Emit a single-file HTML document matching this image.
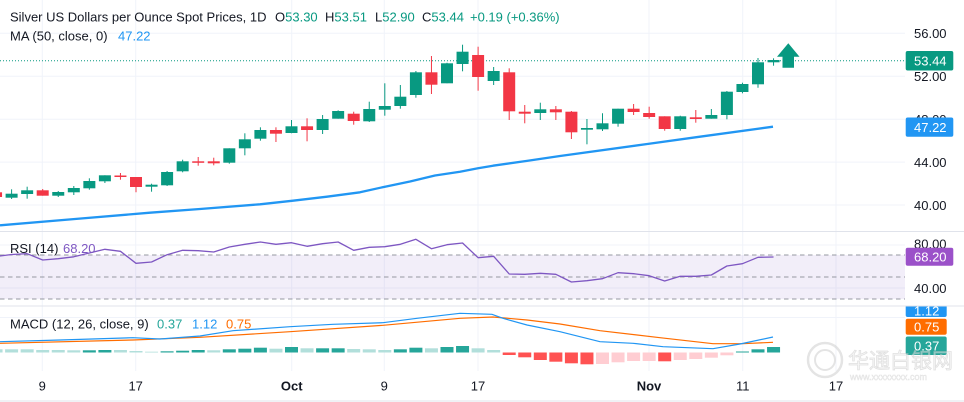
<!DOCTYPE html>
<html><head><meta charset="utf-8"><style>
html,body{margin:0;padding:0;background:#fff;}
svg{display:block;font-family:"Liberation Sans",Arial,"Noto Sans CJK SC",sans-serif;}
</style></head><body>
<svg width="964" height="402" viewBox="0 0 964 402" xmlns="http://www.w3.org/2000/svg">
<rect width="964" height="402" fill="#fff"/>
<!-- vertical grid -->
<g stroke="#f0f3fa" stroke-width="1">
<line x1="42.3" y1="0" x2="42.3" y2="371"/><line x1="135.7" y1="0" x2="135.7" y2="371"/>
<line x1="291.7" y1="0" x2="291.7" y2="371"/><line x1="384.3" y1="0" x2="384.3" y2="371"/>
<line x1="478" y1="0" x2="478" y2="371"/><line x1="649" y1="0" x2="649" y2="371"/>
<line x1="742.7" y1="0" x2="742.7" y2="371"/><line x1="836" y1="0" x2="836" y2="371"/>
<!-- horizontal grid main -->
<line x1="0" y1="33.3" x2="905" y2="33.3"/><line x1="0" y1="76.3" x2="905" y2="76.3"/>
<line x1="0" y1="119.2" x2="905" y2="119.2"/><line x1="0" y1="162.1" x2="905" y2="162.1"/>
<line x1="0" y1="205" x2="905" y2="205"/>
<line x1="0" y1="245" x2="905" y2="245"/><line x1="0" y1="288" x2="905" y2="288"/>
<line x1="0" y1="317.5" x2="905" y2="317.5"/>
</g>
<!-- pane separators -->
<line x1="0" y1="231.5" x2="964" y2="231.5" stroke="#e0e3eb"/>
<line x1="0" y1="306" x2="964" y2="306" stroke="#e0e3eb"/>
<line x1="0" y1="401" x2="964" y2="401" stroke="#e0e3eb"/>

<!-- RSI band -->
<rect x="0" y="255" width="905" height="44" fill="#7e57c2" fill-opacity="0.1"/>
<g stroke="#9598a1" stroke-width="1" stroke-dasharray="4.5,3.5">
<line x1="0" y1="255" x2="905" y2="255"/><line x1="0" y1="277" x2="905" y2="277"/><line x1="0" y1="299" x2="905" y2="299"/>
</g>

<!-- MA line -->
<polyline fill="none" stroke="#2196f3" stroke-width="2.3" stroke-linejoin="round" points="0,225.3 75,219 150,212.7 200,209 260,204.3 293,200.7 327,196.7 360,192.3 385,186.7 410,181.5 435,175.5 460,171.7 478,168.3 493,165.7 527,160.9 560,156 650,143.6 700,136.7 773,126.7"/>

<!-- current price dotted -->
<line x1="0" y1="60.7" x2="905" y2="60.7" stroke="#089981" stroke-width="1" stroke-dasharray="1,2"/>

<!-- candles red -->
<g stroke="#f23645" stroke-width="1">
<line x1="-3.95" y1="192.3" x2="-3.95" y2="197"/>
<line x1="42.7" y1="189" x2="42.7" y2="195.7"/>
<line x1="120.45" y1="173" x2="120.45" y2="179.7"/>
<line x1="136" y1="177" x2="136" y2="192.3"/>
<line x1="198.2" y1="157" x2="198.2" y2="165.7"/>
<line x1="213.75" y1="157.7" x2="213.75" y2="165.3"/>
<line x1="275.95" y1="127.3" x2="275.95" y2="142"/>
<line x1="307.05" y1="118.3" x2="307.05" y2="141.3"/>
<line x1="353.7" y1="111.7" x2="353.7" y2="124.7"/>
<line x1="431.45" y1="56" x2="431.45" y2="94"/>
<line x1="478.1" y1="46.7" x2="478.1" y2="90.7"/>
<line x1="509.2" y1="68.3" x2="509.2" y2="120"/>
<line x1="524.75" y1="105" x2="524.75" y2="123.3"/>
<line x1="555.85" y1="106" x2="555.85" y2="120"/>
<line x1="571.4" y1="111" x2="571.4" y2="139"/>
<line x1="633.6" y1="104" x2="633.6" y2="115"/>
<line x1="649.15" y1="106.7" x2="649.15" y2="118.7"/>
<line x1="664.7" y1="116.3" x2="664.7" y2="130.7"/>
<line x1="695.8" y1="110" x2="695.8" y2="122.7"/>
</g>
<g fill="#f23645">
<rect x="-9.95" y="192.3" width="12" height="4.7"/>
<rect x="36.7" y="190.3" width="12" height="5.4"/>
<rect x="114.45" y="175.5" width="12" height="1.5"/>
<rect x="130" y="177" width="12" height="10"/>
<rect x="192.2" y="161.3" width="12" height="1.5"/>
<rect x="207.75" y="161.3" width="12" height="2"/>
<rect x="269.95" y="130" width="12" height="3.7"/>
<rect x="301.05" y="126.3" width="12" height="3.7"/>
<rect x="347.7" y="113.7" width="12" height="7.3"/>
<rect x="425.45" y="72.3" width="12" height="12.4"/>
<rect x="472.1" y="55" width="12" height="22"/>
<rect x="503.2" y="72.3" width="12" height="39"/>
<rect x="518.75" y="111.7" width="12" height="2"/>
<rect x="549.85" y="109.3" width="12" height="3"/>
<rect x="565.4" y="111.7" width="12" height="20.6"/>
<rect x="627.6" y="108.7" width="12" height="3.3"/>
<rect x="643.15" y="113" width="12" height="4"/>
<rect x="658.7" y="116.3" width="12" height="12.7"/>
<rect x="689.8" y="117.3" width="12" height="1.7"/>
</g>
<!-- candles green -->
<g stroke="#089981" stroke-width="1">
<line x1="11.6" y1="189.3" x2="11.6" y2="199"/>
<line x1="27.15" y1="186.7" x2="27.15" y2="198.7"/>
<line x1="58.25" y1="191" x2="58.25" y2="197"/>
<line x1="73.8" y1="186" x2="73.8" y2="195"/>
<line x1="89.35" y1="178.3" x2="89.35" y2="189.7"/>
<line x1="104.9" y1="175.3" x2="104.9" y2="183"/>
<line x1="151.55" y1="183.7" x2="151.55" y2="191.7"/>
<line x1="167.1" y1="171" x2="167.1" y2="186"/>
<line x1="182.65" y1="159.7" x2="182.65" y2="172.3"/>
<line x1="229.3" y1="148.3" x2="229.3" y2="163.7"/>
<line x1="244.85" y1="133.3" x2="244.85" y2="155.3"/>
<line x1="260.4" y1="127.3" x2="260.4" y2="140.7"/>
<line x1="291.5" y1="120" x2="291.5" y2="133.3"/>
<line x1="322.6" y1="115" x2="322.6" y2="134"/>
<line x1="338.15" y1="110.3" x2="338.15" y2="118.7"/>
<line x1="369.25" y1="101.7" x2="369.25" y2="122"/>
<line x1="384.8" y1="83.3" x2="384.8" y2="115.7"/>
<line x1="400.35" y1="85" x2="400.35" y2="108.7"/>
<line x1="415.9" y1="71" x2="415.9" y2="97.7"/>
<line x1="447" y1="62.7" x2="447" y2="83.3"/>
<line x1="462.55" y1="44.7" x2="462.55" y2="71.3"/>
<line x1="493.65" y1="67" x2="493.65" y2="85"/>
<line x1="540.3" y1="102.7" x2="540.3" y2="120"/>
<line x1="586.95" y1="119" x2="586.95" y2="144.3"/>
<line x1="602.5" y1="113.3" x2="602.5" y2="131"/>
<line x1="618.05" y1="108.7" x2="618.05" y2="126.7"/>
<line x1="680.25" y1="115.7" x2="680.25" y2="130.7"/>
<line x1="711.35" y1="109" x2="711.35" y2="118.7"/>
<line x1="726.9" y1="91" x2="726.9" y2="119.3"/>
<line x1="742.45" y1="82.7" x2="742.45" y2="93.3"/>
<line x1="758" y1="58" x2="758" y2="87.7"/>
<line x1="773.55" y1="58.3" x2="773.55" y2="65.7"/>
</g>
<g fill="#089981">
<rect x="5.6" y="193.7" width="12" height="4"/>
<rect x="21.15" y="190.3" width="12" height="3.7"/>
<rect x="52.25" y="192" width="12" height="3.7"/>
<rect x="67.8" y="188" width="12" height="4.3"/>
<rect x="83.35" y="181" width="12" height="7.3"/>
<rect x="98.9" y="175.3" width="12" height="6"/>
<rect x="145.55" y="184.7" width="12" height="2"/>
<rect x="161.1" y="172" width="12" height="13.3"/>
<rect x="176.65" y="161.3" width="12" height="10"/>
<rect x="223.3" y="148.3" width="12" height="14.4"/>
<rect x="238.85" y="139.3" width="12" height="9"/>
<rect x="254.4" y="130" width="12" height="8.7"/>
<rect x="285.5" y="126.3" width="12" height="6.7"/>
<rect x="316.6" y="119" width="12" height="11"/>
<rect x="332.15" y="111" width="12" height="7.7"/>
<rect x="363.25" y="109" width="12" height="12.3"/>
<rect x="378.8" y="106" width="12" height="3.7"/>
<rect x="394.35" y="96.7" width="12" height="9.3"/>
<rect x="409.9" y="72.3" width="12" height="22.7"/>
<rect x="441" y="63.3" width="12" height="20"/>
<rect x="456.55" y="51.7" width="12" height="12.3"/>
<rect x="487.65" y="71" width="12" height="10"/>
<rect x="534.3" y="109.3" width="12" height="3.7"/>
<rect x="580.95" y="128" width="12" height="1.7"/>
<rect x="596.5" y="123.3" width="12" height="6"/>
<rect x="612.05" y="108.7" width="12" height="15"/>
<rect x="674.25" y="116.3" width="12" height="12.7"/>
<rect x="705.35" y="115" width="12" height="3.7"/>
<rect x="720.9" y="91.7" width="12" height="23.3"/>
<rect x="736.45" y="84" width="12" height="8"/>
<rect x="752" y="62.3" width="12" height="22"/>
<rect x="767.55" y="60" width="12" height="2.3"/>
<polygon points="788.3,43.3 799.5,56.7 794,56.7 794,67.7 782.5,67.7 782.5,56.7 777,56.7"/>
</g>

<!-- RSI line -->
<polyline fill="none" stroke="#7e57c2" stroke-width="1.3" stroke-linejoin="round" points="-3.95,256.5 11.6,254.5 27.15,253.7 42.7,260 58.25,258.7 73.8,256.8 89.35,253 104.9,249.3 120.45,251.3 136,263.3 151.55,262 167.1,254.7 182.65,250.3 198.2,250.7 213.75,252 229.3,247 244.85,244.3 260.4,242 275.95,244.3 291.5,242.7 307.05,246.3 322.6,243.7 338.15,242 353.7,250.3 369.25,247.3 384.8,246.7 400.35,244.3 415.9,239.3 431.45,248.7 447,244.7 462.55,243 478.1,257.7 493.65,256.3 509.2,274 524.75,274.3 540.3,273.3 555.85,274.3 571.4,282 586.95,280.7 602.5,278.7 618.05,272.7 633.6,273.7 649.15,275.7 664.7,281 680.25,276.3 695.8,276.3 711.35,275 726.9,266 742.45,263.7 758,257.3 773.55,257"/>

<!-- MACD histogram -->
<g fill="#b2dfdb">
<rect x="-10.45" y="349.3" width="13" height="3.2"/><rect x="5.1" y="349.3" width="13" height="3.2"/>
<rect x="20.65" y="349.3" width="13" height="3.2"/><rect x="36.2" y="350" width="13" height="2.5"/>
<rect x="51.75" y="350" width="13" height="2.5"/><rect x="67.3" y="350.3" width="13" height="2.2"/>
<rect x="113.95" y="350" width="13" height="2.5"/><rect x="129.5" y="351" width="13" height="1.5"/>
<rect x="145.05" y="351.7" width="13" height="0.8"/><rect x="207.25" y="350.3" width="13" height="2.2"/>
<rect x="269.45" y="348.7" width="13" height="3.8"/><rect x="300.55" y="348.3" width="13" height="4.2"/>
<rect x="347.2" y="349" width="13" height="3.5"/><rect x="362.75" y="349.3" width="13" height="3.2"/>
<rect x="378.3" y="350" width="13" height="2.5"/><rect x="424.95" y="348.3" width="13" height="4.2"/>
<rect x="471.6" y="348.3" width="13" height="4.2"/><rect x="487.15" y="350" width="13" height="2.5"/>
</g>
<g fill="#26a69a">
<rect x="82.85" y="350.3" width="13" height="2.2"/><rect x="98.4" y="350" width="13" height="2.5"/>
<rect x="160.6" y="351.3" width="13" height="1.2"/><rect x="176.15" y="350.7" width="13" height="1.8"/>
<rect x="191.7" y="350" width="13" height="2.5"/><rect x="222.8" y="349.3" width="13" height="3.2"/>
<rect x="238.35" y="348.7" width="13" height="3.8"/><rect x="253.9" y="347.7" width="13" height="4.8"/>
<rect x="285" y="347" width="13" height="5.5"/><rect x="316.1" y="348.3" width="13" height="4.2"/>
<rect x="331.65" y="348.3" width="13" height="4.2"/><rect x="393.85" y="349.3" width="13" height="3.2"/>
<rect x="409.4" y="347.7" width="13" height="4.8"/><rect x="440.5" y="347" width="13" height="5.5"/>
<rect x="456.05" y="346" width="13" height="6.5"/><rect x="735.95" y="351.5" width="13" height="1"/>
<rect x="751.5" y="349.3" width="13" height="3.2"/><rect x="767.05" y="347" width="13" height="5.5"/>
</g>
<g fill="#ff5252">
<rect x="502.7" y="352.5" width="13" height="2.5"/><rect x="518.25" y="352.5" width="13" height="4.8"/>
<rect x="533.8" y="352.5" width="13" height="7.5"/><rect x="549.35" y="352.5" width="13" height="9.2"/>
<rect x="564.9" y="352.5" width="13" height="10.8"/><rect x="580.45" y="352.5" width="13" height="11.8"/>
<rect x="658.2" y="352.5" width="13" height="8.8"/>
</g>
<g fill="#ffcdd2">
<rect x="596" y="352.5" width="13" height="11.5"/><rect x="611.55" y="352.5" width="13" height="9.8"/>
<rect x="627.1" y="352.5" width="13" height="8.5"/><rect x="642.65" y="352.5" width="13" height="8.5"/>
<rect x="673.75" y="352.5" width="13" height="7.5"/><rect x="689.3" y="352.5" width="13" height="6.5"/>
<rect x="704.85" y="352.5" width="13" height="5.2"/><rect x="720.4" y="352.5" width="13" height="2.8"/>
</g>
<!-- MACD lines -->
<polyline fill="none" stroke="#ff6d00" stroke-width="1.2" points="0,343.3 133,340 200,337.3 290,331.7 383,325.3 460,318.3 493,317 527,320 560,324 600,330.7 660,337.7 713,343.7 743,343.7 773,342.3"/>
<polyline fill="none" stroke="#2196f3" stroke-width="1.2" points="0,341.7 60,340 133,337.7 160,339 200,336 233,330.7 290,326.7 333,324.3 383,322.7 417,318.3 460,313.3 492,314.3 503,318.3 527,325 560,331.7 600,341.7 633,343.3 663,346.7 713,348.7 740,344 773,337"/>

<!-- legends -->
<g font-size="13" fill="#131722">
<text x="10" y="21.5">Silver US Dollars per Ounce Spot Prices, 1D</text>
<text x="275" y="21.5">O<tspan fill="#089981">53.30</tspan></text>
<text x="325" y="21.5">H<tspan fill="#089981">53.51</tspan></text>
<text x="375" y="21.5">L<tspan fill="#089981">52.90</tspan></text>
<text x="422" y="21.5">C<tspan fill="#089981">53.44</tspan></text>
<text x="470" y="21.5" fill="#089981">+0.19 (+0.36%)</text>
<text x="10" y="40.5">MA (50, close, 0)</text>
<text x="118" y="40.5" fill="#2196f3">47.22</text>
<text x="10" y="253">RSI (14)</text>
<text x="63" y="253" fill="#7e57c2">68.20</text>
<text x="10" y="328.5">MACD (12, 26, close, 9)</text>
<text x="157" y="328.5" fill="#26a69a">0.37</text>
<text x="192" y="328.5" fill="#2196f3">1.12</text>
<text x="226" y="328.5" fill="#ff6d00">0.75</text>
</g>

<!-- price axis labels -->
<g font-size="13" fill="#131722">
<text x="914" y="38">56.00</text>
<text x="914" y="81">52.00</text>
<text x="914" y="124">48.00</text>
<text x="914" y="167">44.00</text>
<text x="914" y="210">40.00</text>
<text x="914" y="248.6">80.00</text>
<text x="914" y="293">40.00</text>
</g>
<rect x="905.7" y="51" width="47.6" height="19.5" rx="2" fill="#089981"/>
<text x="914" y="65.4" font-size="13" fill="#fff">53.44</text>
<rect x="905.7" y="117.5" width="47.6" height="19.2" rx="2" fill="#2196f3"/>
<text x="914" y="131.8" font-size="13" fill="#fff">47.22</text>
<rect x="905.7" y="247.7" width="47.6" height="18" rx="2" fill="#9b51c9"/>
<text x="914" y="261.3" font-size="13" fill="#fff">68.20</text>
<svg x="905" y="306.5" width="59" height="60" overflow="hidden">
<rect x="0.7" y="-2" width="41" height="12.5" rx="2" fill="#2196f3"/>
<text x="9" y="9.2" font-size="13" fill="#fff">1.12</text>
<rect x="0.7" y="12.2" width="41" height="16" rx="2" fill="#ff6d00"/>
<text x="9" y="24.8" font-size="13" fill="#fff">0.75</text>
<rect x="0.7" y="30" width="41" height="18.5" rx="2" fill="#26a69a"/>
<text x="9" y="44" font-size="13" fill="#fff">0.37</text>
</svg>

<!-- watermark -->
<g opacity="0.55">
<circle cx="825" cy="360" r="17" fill="none" stroke="#cfcfcf" stroke-width="2.5"/>
<circle cx="825" cy="360" r="10" fill="none" stroke="#cfcfcf" stroke-width="2"/>
<text x="848" y="368" font-size="21" fill="#f2f2f2" stroke="#c8c8c8" stroke-width="0.8" font-family="'Noto Sans CJK SC',sans-serif">华通白银网</text>
<text x="850" y="380" font-size="9" fill="#e6e6e6" stroke="#cccccc" stroke-width="0.4">www.xxxxxxxx.com</text>
</g>

<!-- time axis -->
<g font-size="13" fill="#131722" text-anchor="middle">
<text x="42.3" y="390.5">9</text>
<text x="135.7" y="390.5">17</text>
<text x="291.7" y="390.5" font-weight="bold">Oct</text>
<text x="384.3" y="390.5">9</text>
<text x="478" y="390.5">17</text>
<text x="649" y="390.5" font-weight="bold">Nov</text>
<text x="742.7" y="390.5">11</text>
<text x="836" y="390.5">17</text>
</g>
</svg>
</body></html>
